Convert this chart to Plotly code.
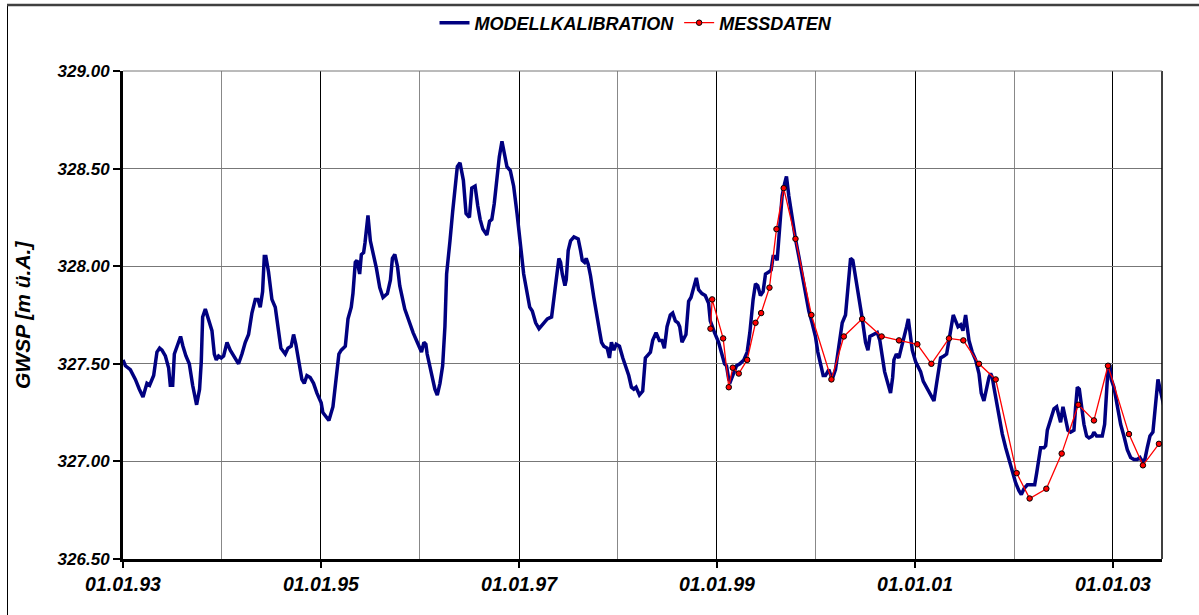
import plotly.graph_objects as go
import pandas as pd

# Modellkalibration (fractional year, GWSP in m ü.A.)
blue_years = [
    1993.000, 1993.024, 1993.074, 1993.125, 1993.165, 1993.202, 1993.242, 1993.269, 1993.310, 1993.343,
    1993.370, 1993.394, 1993.428, 1993.461, 1993.478, 1993.502, 1993.519, 1993.545, 1993.582, 1993.606,
    1993.636, 1993.670, 1993.704, 1993.744, 1993.774, 1993.791, 1993.805, 1993.832, 1993.865, 1993.899,
    1993.923, 1993.943, 1993.966, 1993.993, 1994.017, 1994.051, 1994.084, 1994.128, 1994.168, 1994.202,
    1994.236, 1994.269, 1994.303, 1994.337, 1994.364, 1994.387, 1994.411, 1994.428, 1994.444, 1994.471,
    1994.505, 1994.539, 1994.566, 1994.596, 1994.640, 1994.667, 1994.700, 1994.724, 1994.747, 1994.774,
    1994.808, 1994.832, 1994.859, 1994.892, 1994.926, 1994.960, 1995.003,
    1995.020, 1995.081, 1995.122, 1995.155, 1995.182, 1995.206, 1995.247, 1995.274, 1995.307, 1995.324,
    1995.348, 1995.365, 1995.392, 1995.409, 1995.432, 1995.446, 1995.476, 1995.500, 1995.527, 1995.561,
    1995.595, 1995.628, 1995.672, 1995.703, 1995.723, 1995.747, 1995.774, 1995.797, 1995.848, 1995.882,
    1995.932, 1995.983, 1996.017, 1996.041, 1996.061, 1996.074, 1996.118, 1996.152, 1996.176, 1996.203,
    1996.230, 1996.253, 1996.270, 1996.287, 1996.304, 1996.331, 1996.355, 1996.378, 1996.405, 1996.439,
    1996.466, 1996.500, 1996.524, 1996.557, 1996.584, 1996.608, 1996.635, 1996.676, 1996.703, 1996.726,
    1996.750, 1996.777, 1996.801, 1996.828, 1996.851, 1996.878, 1996.912, 1996.946, 1996.980, 1997.014,
    1997.047, 1997.108,
    1997.134, 1997.168, 1997.202, 1997.235, 1997.286, 1997.329, 1997.343, 1997.363, 1997.387, 1997.403,
    1997.420, 1997.437, 1997.464, 1997.477, 1997.497, 1997.521, 1997.555, 1997.598, 1997.622, 1997.639,
    1997.662, 1997.679, 1997.699, 1997.723, 1997.756, 1997.790, 1997.813, 1997.834, 1997.857, 1997.891,
    1997.914, 1997.934, 1997.958, 1997.982, 1998.015, 1998.049, 1998.076, 1998.109, 1998.136, 1998.160,
    1998.183, 1998.217, 1998.250, 1998.277, 1998.311, 1998.328, 1998.351, 1998.385, 1998.418, 1998.445,
    1998.469, 1998.496, 1998.529, 1998.553, 1998.580, 1998.607, 1998.624, 1998.647, 1998.687, 1998.714,
    1998.738, 1998.765, 1998.792, 1998.815, 1998.849, 1998.882, 1998.916, 1998.933, 1998.950, 1998.976,
    1999.017, 1999.050, 1999.077,
    1999.097, 1999.120, 1999.137, 1999.164, 1999.198, 1999.232, 1999.272, 1999.306, 1999.333, 1999.366,
    1999.390, 1999.413, 1999.440, 1999.467, 1999.491, 1999.524, 1999.548, 1999.568, 1999.592, 1999.609,
    1999.636, 1999.659, 1999.683, 1999.703, 1999.727, 1999.760, 1999.794, 1999.828, 1999.861, 1999.895,
    1999.929, 1999.962, 1999.996, 2000.020, 2000.047, 2000.074, 2000.097, 2000.131, 2000.164, 2000.198,
    2000.232, 2000.266, 2000.299, 2000.316, 2000.333, 2000.350, 2000.373, 2000.400, 2000.434, 2000.468,
    2000.501, 2000.525, 2000.545,
    2000.578, 2000.619, 2000.645, 2000.669, 2000.693, 2000.720, 2000.753, 2000.774, 2000.787, 2000.811,
    2000.837, 2000.861, 2000.888, 2000.915, 2000.932, 2000.955, 2000.972, 2001.006, 2001.029, 2001.056,
    2001.083, 2001.124, 2001.157, 2001.191, 2001.218, 2001.242, 2001.258, 2001.292, 2001.319, 2001.343,
    2001.366, 2001.386, 2001.410, 2001.434, 2001.461, 2001.484, 2001.511, 2001.528, 2001.545, 2001.578,
    2001.612, 2001.646, 2001.669, 2001.696, 2001.723, 2001.747, 2001.764, 2001.781, 2001.797,
    2001.815, 2001.848, 2001.882, 2001.916, 2001.949, 2001.983, 2002.017, 2002.050, 2002.074, 2002.101,
    2002.135, 2002.168, 2002.209, 2002.229, 2002.252, 2002.269, 2002.303, 2002.320, 2002.337, 2002.370,
    2002.404, 2002.431, 2002.455, 2002.471, 2002.495, 2002.522, 2002.545, 2002.572, 2002.606, 2002.623,
    2002.640, 2002.660, 2002.680, 2002.707, 2002.734, 2002.758, 2002.791, 2002.808, 2002.835, 2002.865,
    2002.892, 2002.916, 2002.936, 2002.953, 2002.970, 2002.983, 2003.010, 2003.044, 2003.078, 2003.111,
    2003.145, 2003.179, 2003.212, 2003.246, 2003.273, 2003.296, 2003.323, 2003.347, 2003.374, 2003.404,
    2003.421, 2003.441, 2003.455, 2003.472, 2003.499, 2003.526,
]
blue_values = [
    327.52, 327.49, 327.47, 327.42, 327.37, 327.33, 327.40, 327.39, 327.44, 327.56,
    327.58, 327.57, 327.54, 327.48, 327.39, 327.39, 327.55, 327.59, 327.64, 327.59,
    327.54, 327.50, 327.39, 327.29, 327.37, 327.51, 327.74, 327.78, 327.73, 327.67,
    327.55, 327.52, 327.54, 327.53, 327.54, 327.61, 327.57, 327.53, 327.50, 327.55,
    327.61, 327.65, 327.76, 327.83, 327.83, 327.79, 327.87, 328.05, 328.05, 327.97,
    327.83, 327.79, 327.70, 327.58, 327.55, 327.58, 327.59, 327.65, 327.60, 327.53,
    327.42, 327.40, 327.44, 327.43, 327.40, 327.35, 327.30,
    327.25, 327.21, 327.28, 327.42, 327.55, 327.57, 327.59, 327.73, 327.79, 327.86,
    328.02, 328.03, 327.96, 328.06, 328.07, 328.12, 328.26, 328.13, 328.07, 327.99,
    327.89, 327.84, 327.86, 327.93, 328.04, 328.06, 328.00, 327.90, 327.78, 327.73,
    327.66, 327.60, 327.56, 327.61, 327.60, 327.55, 327.45, 327.37, 327.34, 327.40,
    327.49, 327.69, 327.96, 328.07, 328.13, 328.28, 328.39, 328.51, 328.53, 328.44,
    328.27, 328.25, 328.40, 328.41, 328.31, 328.24, 328.19, 328.16, 328.23, 328.24,
    328.32, 328.45, 328.56, 328.64, 328.58, 328.51, 328.49, 328.41, 328.27, 328.10,
    327.96, 327.79,
    327.77, 327.71, 327.68, 327.70, 327.73, 327.74, 327.80, 327.87, 328.00, 328.04,
    328.02, 327.96, 327.90, 327.93, 328.08, 328.13, 328.15, 328.14, 328.08, 328.03,
    328.02, 328.04, 328.01, 327.95, 327.84, 327.72, 327.67, 327.61, 327.59, 327.58,
    327.53, 327.61, 327.57, 327.60, 327.59, 327.53, 327.49, 327.44, 327.38, 327.37,
    327.38, 327.34, 327.36, 327.53, 327.55, 327.56, 327.62, 327.66, 327.62, 327.62,
    327.58, 327.69, 327.75, 327.76, 327.72, 327.71, 327.69, 327.61, 327.65, 327.82,
    327.84, 327.90, 327.94, 327.88, 327.86, 327.85, 327.81, 327.72, 327.69, 327.66,
    327.61, 327.55, 327.50,
    327.49, 327.42, 327.41, 327.45, 327.49, 327.50, 327.52, 327.56, 327.66, 327.83,
    327.91, 327.90, 327.85, 327.87, 327.96, 327.97, 327.98, 328.05, 328.05, 328.03,
    328.20, 328.36, 328.42, 328.46, 328.36, 328.24, 328.14, 328.05, 327.95, 327.86,
    327.77, 327.71, 327.64, 327.56, 327.49, 327.44, 327.44, 327.47, 327.42, 327.47,
    327.59, 327.71, 327.75, 327.85, 327.95, 328.04, 328.03, 327.95, 327.83, 327.73,
    327.61, 327.57, 327.64,
    327.65, 327.66, 327.62, 327.55, 327.46, 327.41, 327.35, 327.43, 327.52, 327.55,
    327.53, 327.58, 327.63, 327.69, 327.73, 327.65, 327.57, 327.51, 327.49, 327.46,
    327.41, 327.37, 327.34, 327.31, 327.40, 327.48, 327.53, 327.54, 327.55, 327.62,
    327.69, 327.75, 327.72, 327.69, 327.70, 327.67, 327.75, 327.69, 327.62, 327.56,
    327.52, 327.45, 327.35, 327.31, 327.38, 327.43, 327.45, 327.43, 327.38,
    327.33, 327.23, 327.14, 327.07, 327.01, 326.94, 326.89, 326.85, 326.83, 326.86,
    326.88, 326.88, 326.88, 326.94, 327.01, 327.07, 327.07, 327.08, 327.16, 327.22,
    327.27, 327.28, 327.23, 327.20, 327.28, 327.22, 327.16, 327.15, 327.16, 327.28,
    327.38, 327.37, 327.28, 327.19, 327.13, 327.12, 327.13, 327.15, 327.13, 327.13,
    327.13, 327.19, 327.33, 327.50, 327.49, 327.42, 327.38, 327.28, 327.19, 327.13,
    327.06, 327.02, 327.01, 327.01, 327.02, 327.00, 327.01, 327.07, 327.13, 327.15,
    327.25, 327.37, 327.42, 327.38, 327.31, 327.26,
]

# Messdaten (fractional year, GWSP in m ü.A.)
mess_years = [
    1998.935, 1998.952, 1999.063, 1999.120, 1999.160, 1999.221, 1999.306, 1999.390, 1999.447, 1999.531,
    1999.602, 1999.675, 1999.794, 1999.955, 2000.157, 2000.282, 2000.467, 2000.663, 2000.838, 2001.023,
    2001.165, 2001.343, 2001.488, 2001.646, 2001.815, 2002.027, 2002.158, 2002.327, 2002.482, 2002.650,
    2002.808, 2002.950, 2003.162, 2003.303, 2003.465,
]
mess_values = [
    327.68, 327.83, 327.63, 327.38, 327.48, 327.45, 327.52, 327.71, 327.76, 327.89,
    328.19, 328.40, 328.14, 327.75, 327.42, 327.64, 327.73, 327.64, 327.62, 327.60,
    327.50, 327.63, 327.62, 327.50, 327.42, 326.94, 326.81, 326.86, 327.04, 327.29,
    327.21, 327.49, 327.14, 326.98, 327.09,
]

x_range = ["1993-01-01", "2003-07-01"]
y_range = [326.5, 329.0]


def to_date(y):
    yr = int(y)
    start = pd.Timestamp(year=yr, month=1, day=1)
    end = pd.Timestamp(year=yr + 1, month=1, day=1)
    return start + (end - start) * (y - yr)


blue_dates = [to_date(v) for v in blue_years]
mess_dates = [to_date(v) for v in mess_years]

FONT = "Liberation Sans, Arial, sans-serif"

fig = go.Figure()
fig.add_trace(go.Scatter(
    x=blue_dates, y=blue_values, mode="lines", name="MODELLKALIBRATION",
    line=dict(color="#000080", width=3.5),
))
fig.add_trace(go.Scatter(
    x=mess_dates, y=mess_values, mode="lines+markers", name="MESSDATEN",
    line=dict(color="#FF0000", width=1.3),
    marker=dict(color="#FF0000", size=5.5, line=dict(color="#000000", width=1)),
))

L, R, T, B = 123, 37, 71, 56
W, H = 1199, 615
pw, ph = W - L - R, H - T - B


def px_to_paper_x(px):
    return (px - L) / pw


def px_to_paper_y(py):
    return (H - B - py) / ph


ytick_font = dict(family=FONT, size=17, color="#000000", weight="bold", style="italic")
xtick_font = dict(family=FONT, size=19.5, color="#000000", weight="bold", style="italic")

fig.update_layout(
    width=W, height=H,
    margin=dict(l=L, r=R, t=T, b=B, autoexpand=False),
    paper_bgcolor="white", plot_bgcolor="white",
    showlegend=True,
    legend=dict(
        orientation="h", xref="paper", x=px_to_paper_x(636), xanchor="center",
        yref="container", y=1 - 23 / H, yanchor="middle",
        font=dict(family=FONT, size=18, color="#000000", weight="bold", style="italic"),
        bgcolor="rgba(0,0,0,0)", itemwidth=30, tracegroupgap=0,
    ),
    xaxis=dict(
        type="date", range=x_range, automargin=False,
        tick0="1993-01-01", dtick="M24", tickformat="%d.%m.%y",
        ticks="outside", ticklen=6, tickwidth=2, tickcolor="#000000",
        showline=True, linecolor="#000000", linewidth=3,
        showgrid=True, gridcolor="#000000", gridwidth=1,
        minor=dict(tick0="1993-01-01", dtick="M12", showgrid=True, gridcolor="#888888", gridwidth=1),
        tickfont=xtick_font, zeroline=False,
    ),
    yaxis=dict(
        range=y_range, dtick=0.5, tick0=326.5, tickformat=".2f", automargin=False,
        ticks="outside", ticklen=7, tickwidth=2, tickcolor="#000000",
        showline=True, linecolor="#000000", linewidth=3,
        showgrid=True, gridcolor="#777777", gridwidth=1,
        tickfont=ytick_font, zeroline=False,
    ),
    annotations=[dict(
        text="GWSP [m ü.A.]", textangle=-90, showarrow=False,
        xref="paper", yref="paper", x=px_to_paper_x(22), y=px_to_paper_y(315),
        xanchor="center", yanchor="middle",
        font=dict(family=FONT, size=21, color="#000000", weight="bold", style="italic"),
    )],
    shapes=[
        dict(type="line", xref="paper", yref="paper", x0=1, x1=1, y0=0, y1=1,
             line=dict(color="#000000", width=1.5)),
        dict(type="line", xref="paper", yref="paper", x0=0, x1=1, y0=1, y1=1,
             line=dict(color="#777777", width=1)),
        dict(type="line", xref="paper", yref="paper",
             x0=px_to_paper_x(7.5), x1=px_to_paper_x(7.5),
             y0=px_to_paper_y(5), y1=px_to_paper_y(640),
             line=dict(color="#000000", width=1)),
        dict(type="line", xref="paper", yref="paper",
             x0=px_to_paper_x(7), x1=px_to_paper_x(1220),
             y0=px_to_paper_y(5), y1=px_to_paper_y(5),
             line=dict(color="#404040", width=2.5)),
    ],
)

fig.write_html(
    "out.html",
    config={"displayModeBar": False},
    post_script="document.body.style.margin='0';document.body.style.overflow='hidden';",
)
